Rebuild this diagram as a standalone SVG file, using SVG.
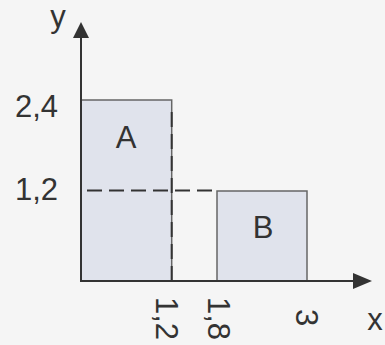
<svg xmlns="http://www.w3.org/2000/svg" width="385" height="345" viewBox="0 0 385 345">
<style>
.t{font-family:"Liberation Sans",Arial,sans-serif;font-size:31px;fill:#333}
.box{fill:#e0e3ec;stroke:#666;stroke-width:1.5}
.axis{stroke:#333;stroke-width:2;fill:none}
.dash{stroke:#333;stroke-width:2;fill:none;stroke-dasharray:15 7}
</style>
<rect width="385" height="345" fill="#f5f5f5"/>
<g id="A">
<rect class="box" x="81" y="100" width="90.7" height="181"/>
<text class="t" x="126" y="148" text-anchor="middle">A</text>
</g>
<g id="B">
<rect class="box" x="217" y="191" width="90" height="90"/>
<text class="t" x="263" y="238" text-anchor="middle">B</text>
</g>
<g id="connectors">
<path class="dash" d="M87 190.5H217"/>
<path class="dash" d="M171.7 112V281"/>
<path class="axis" d="M81 282V36"/>
<polygon points="73,38 89,38 81,22" fill="#333"/>
<path class="axis" d="M80 281H355"/>
<polygon points="353,273 353,289 372,281" fill="#333"/>
</g>
<g id="labels">
<text class="t" x="58" y="27" text-anchor="middle">y</text>
<text class="t" x="375" y="330" text-anchor="middle">x</text>
<text class="t" x="58" y="117" text-anchor="end">2,4</text>
<text class="t" x="58" y="200" text-anchor="end">1,2</text>
<text class="t" transform="translate(156,297) rotate(90)">1,2</text>
<text class="t" transform="translate(208,297) rotate(90)">1,8</text>
<text class="t" transform="translate(296,309) rotate(90)">3</text>
</g>
</svg>
